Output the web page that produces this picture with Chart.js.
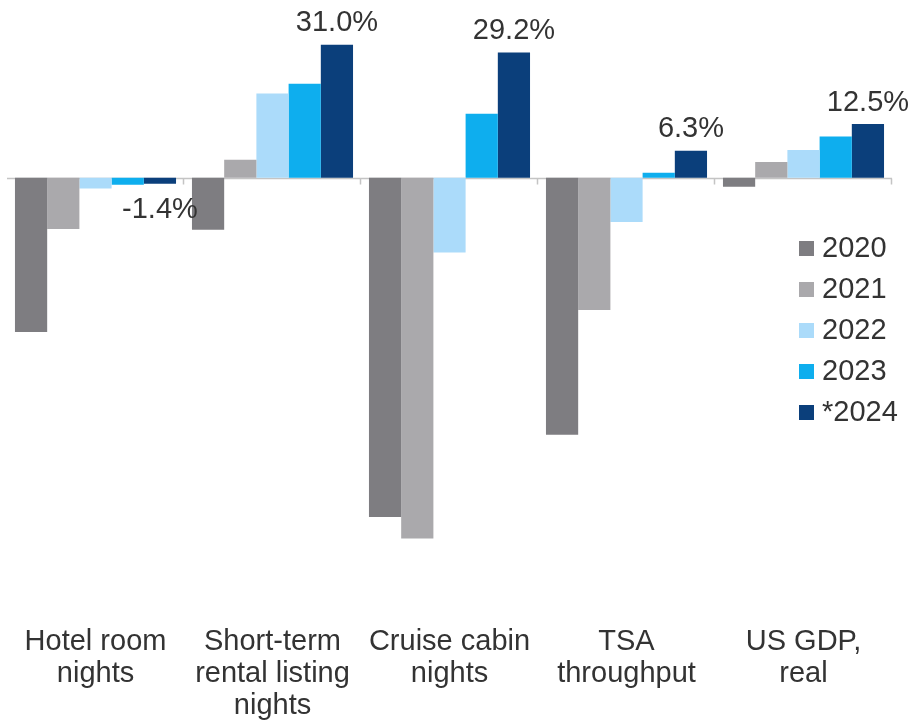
<!DOCTYPE html>
<html>
<head>
<meta charset="utf-8">
<script src="https://cdn.jsdelivr.net/npm/chart.js@4.4.1/dist/chart.umd.min.js"></script>
<style>
  html, body { margin: 0; padding: 0; background: #fff; }
  #wrap { width: 910px; height: 722px; }
</style>
</head>
<body>
<div id="wrap"><canvas id="chart" width="910" height="722"></canvas></div>
<script>
// Values (% change vs 2019)
const categories = [
    ['Hotel room', 'nights'],
    ['Short-term', 'rental listing', 'nights'],
    ['Cruise cabin', 'nights'],
    ['TSA', 'throughput'],
    ['US GDP,', 'real']
];
const years = ['2020', '2021', '2022', '2023', '*2024'];
const v2020 = [-35.9, -12.1, -79.0, -59.8, -2.1];
const v2021 = [-11.9, 4.2, -84.0, -30.8, 3.7];
const v2022 = [-2.5, 19.6, -17.4, -10.3, 6.5];
const v2023 = [-1.6, 21.9, 14.9, 1.2, 9.6];
const v2024 = [-1.4, 31.0, 29.2, 6.3, 12.5];
const yMin = -99;
const yMax = 40;

const colors = ['#7e7d81', '#aaa9ac', '#abdbfa', '#0eaeee', '#0b3f7b'];
const FONT = '"Liberation Sans", Arial, sans-serif';
const TEXT = '#333333';

Chart.defaults.font.family = FONT;

const series = [v2020, v2021, v2022, v2023, v2024];
const datasets = series.map(function (vals, i) {
    return {
        label: years[i],
        data: vals,
        backgroundColor: colors[i],
        borderWidth: 0,
        categoryPercentage: 0.91,
        barPercentage: 1.0
    };
});

// zero line with small tick marks at the category boundaries
const zeroAxis = {
    id: 'zeroAxis',
    beforeDatasetsDraw: function (chart) {
        var ctx = chart.ctx;
        var x = chart.scales.x;
        var y0 = Math.round(chart.scales.y.getPixelForValue(0)) + 0.5;
        var step = (x.right - x.left) / categories.length;
        ctx.save();
        ctx.strokeStyle = '#c4c4c4';
        ctx.lineWidth = 1.5;
        ctx.beginPath();
        ctx.moveTo(x.left, y0);
        ctx.lineTo(x.right, y0);
        for (var i = 1; i <= categories.length; i++) {
            var bx = Math.round(x.left + step * i) - 0.5;
            ctx.moveTo(bx, y0);
            ctx.lineTo(bx, y0 + 6);
        }
        ctx.stroke();
        ctx.restore();
    }
};

// value labels for the last series only
const lastLabels = {
    id: 'lastLabels',
    afterDatasetsDraw: function (chart) {
        var ctx = chart.ctx;
        var idx = chart.data.datasets.length - 1;
        var meta = chart.getDatasetMeta(idx);
        ctx.save();
        ctx.font = '29px ' + FONT;
        ctx.fillStyle = TEXT;
        ctx.textAlign = 'center';
        meta.data.forEach(function (bar, i) {
            var v = chart.data.datasets[idx].data[i];
            var txt = v.toFixed(1) + '%';
            if (v >= 0) {
                ctx.textBaseline = 'bottom';
                ctx.fillText(txt, bar.x, bar.y - 7);
            } else {
                ctx.textBaseline = 'top';
                ctx.fillText(txt, bar.x, bar.y + 12);
            }
        });
        ctx.restore();
    }
};

// legend drawn inside the plot, right side
const insideLegend = {
    id: 'insideLegend',
    afterDraw: function (chart) {
        var ctx = chart.ctx;
        var area = chart.chartArea;
        var bx = area.right - 93;
        var top = 248;
        var gap = 41;
        ctx.save();
        ctx.font = '29px ' + FONT;
        ctx.textBaseline = 'middle';
        ctx.textAlign = 'left';
        chart.data.datasets.forEach(function (ds, i) {
            var cy = top + gap * i;
            ctx.fillStyle = ds.backgroundColor;
            ctx.fillRect(bx, cy - 7, 15, 15);
            ctx.fillStyle = TEXT;
            ctx.fillText(ds.label, bx + 23, cy + 1);
        });
        ctx.restore();
    }
};

new Chart(document.getElementById('chart'), {
    type: 'bar',
    data: {
        labels: categories,
        datasets: datasets
    },
    options: {
        responsive: false,
        animation: false,
        layout: {
            padding: { left: 7, right: 18, top: 6, bottom: 0 }
        },
        scales: {
            x: {
                grid: { display: false },
                border: { display: false },
                afterFit: function (scale) {
                    scale.height = 119;
                },
                ticks: {
                    autoSkip: false,
                    maxRotation: 0,
                    padding: 15,
                    color: TEXT,
                    font: { size: 29, lineHeight: 1.1 }
                }
            },
            y: {
                display: false,
                min: yMin,
                max: yMax
            }
        },
        plugins: {
            legend: { display: false },
            tooltip: { enabled: false }
        }
    },
    plugins: [zeroAxis, lastLabels, insideLegend]
});
</script>
</body>
</html>
